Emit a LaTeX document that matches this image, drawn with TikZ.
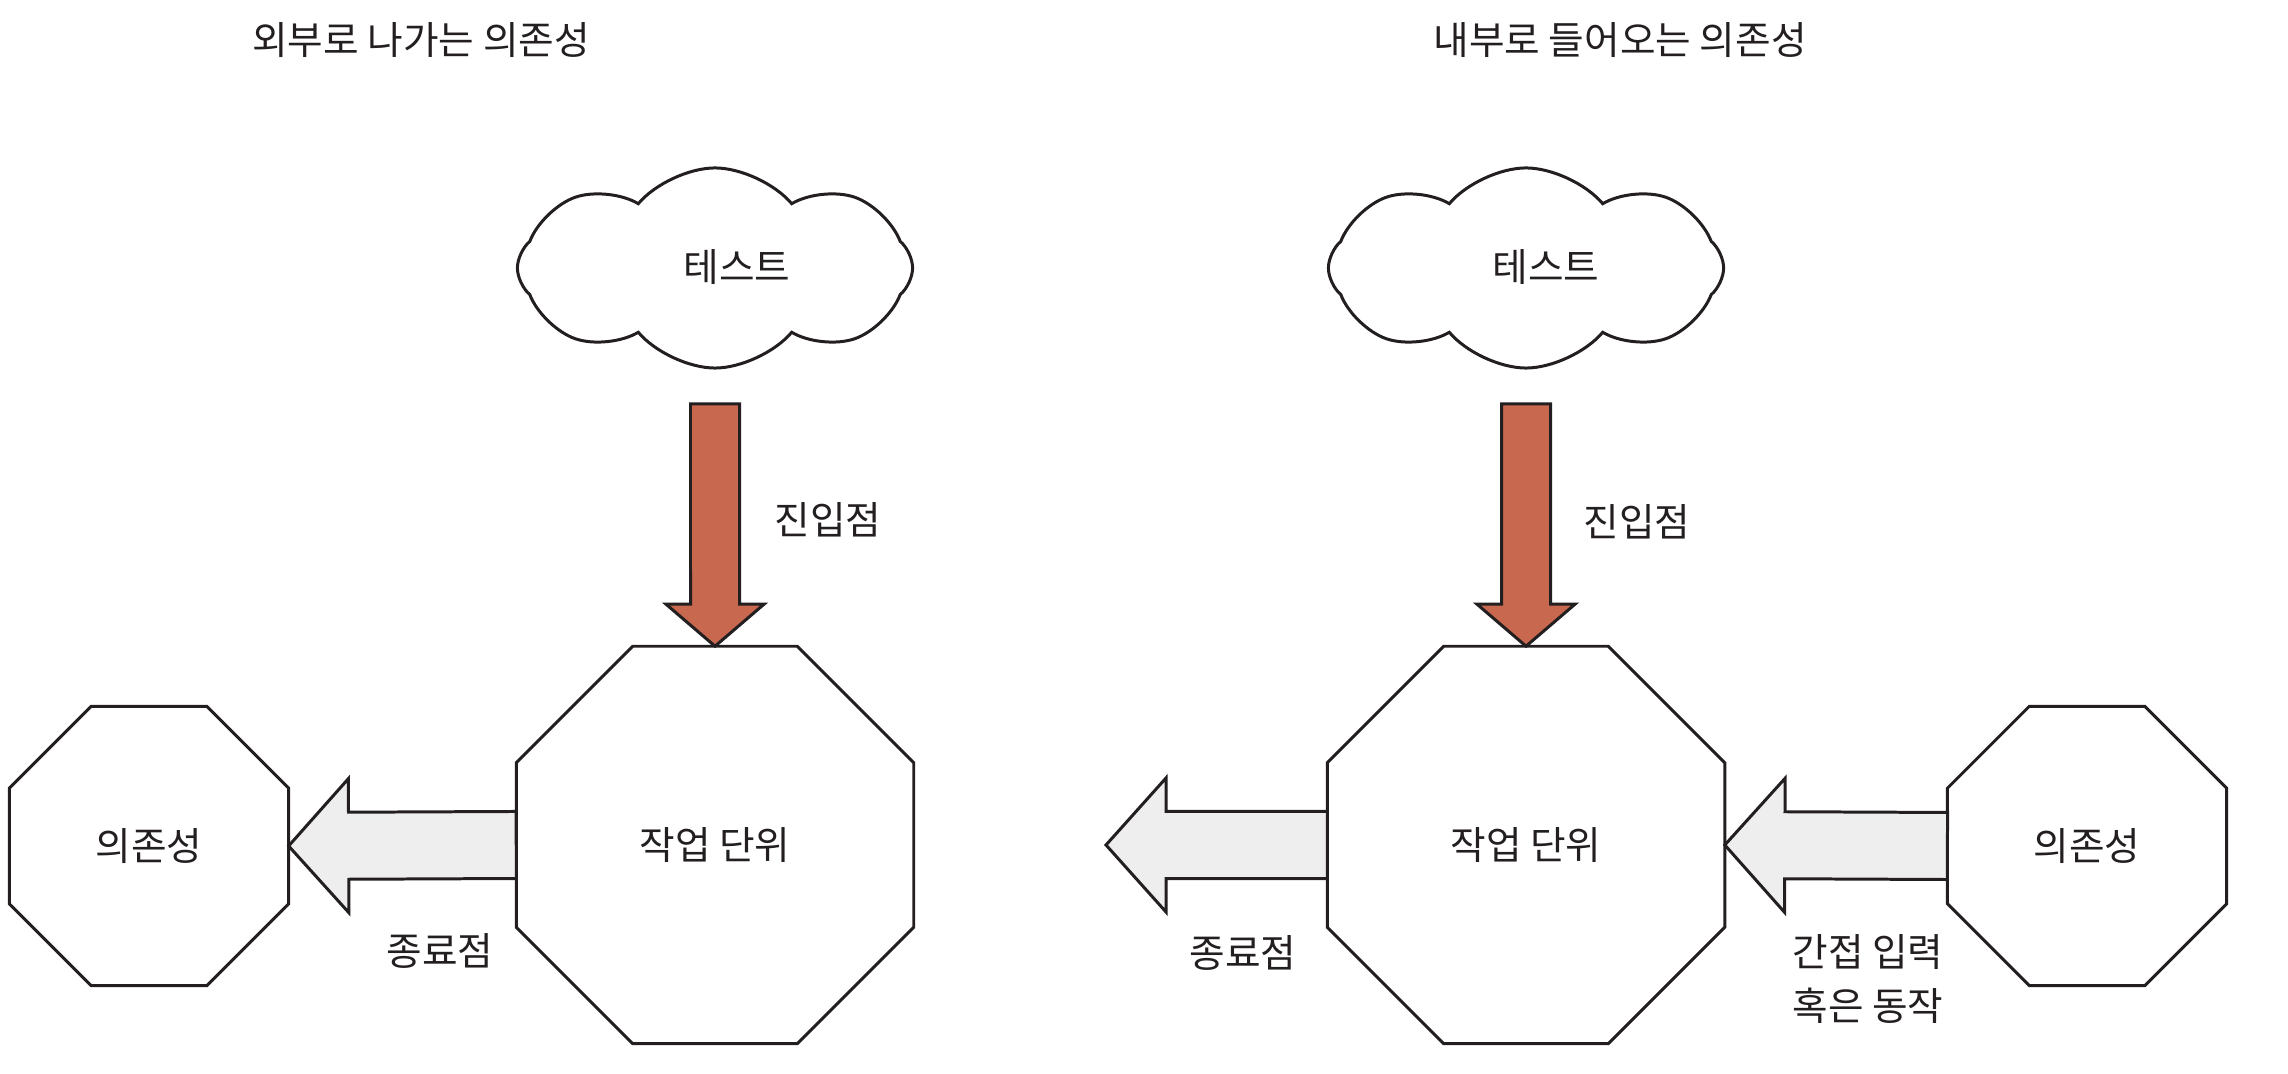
\documentclass[tikz,border=0pt]{standalone}
\usepackage{fontspec}
\setmainfont{Noto Sans CJK KR}
\usetikzlibrary{calc,shapes.geometric,shapes.symbols}

\definecolor{inkline}{HTML}{231F20}
\definecolor{entryfill}{HTML}{C8684F}
\definecolor{exitfill}{HTML}{EEEEEE}

\tikzset{
  octbox/.style={regular polygon, regular polygon sides=8, draw=inkline,
    line width=0.85pt, inner sep=0pt, outer sep=0pt},
  cloudbox/.style={cloud, cloud puffs=8, cloud puff arc=100, aspect=1.9,
    draw=inkline, line width=0.85pt, minimum width=3.95cm, minimum height=2.0cm,
    inner sep=0pt, outer sep=0pt},
  % block arrow: shaft half width, head half width, head length
  blockarrow/.style n args={3}{draw=inkline, line width=0.85pt, line join=miter,
    to path={
      ($(\tikztostart)!#1!90:(\tikztotarget)$)
      -- ($(\tikztotarget)!#3!(\tikztostart)!#1!-90:(\tikztostart)$)
      -- ($(\tikztotarget)!#3!(\tikztostart)!#2!-90:(\tikztostart)$)
      -- (\tikztotarget)
      -- ($(\tikztotarget)!#3!(\tikztostart)!#2!90:(\tikztostart)$)
      -- ($(\tikztotarget)!#3!(\tikztostart)!#1!90:(\tikztostart)$)
      -- ($(\tikztostart)!#1!-90:(\tikztotarget)$)
      -- cycle \tikztonodes}},
  inarrow/.style={blockarrow={0.245cm}{0.49cm}{0.42cm}, fill=entryfill},
  outarrow/.style={blockarrow={0.335cm}{0.67cm}{0.6cm}, fill=exitfill},
}

\begin{document}
\begin{tikzpicture}[x=0.01cm, y=-0.01cm, text=inkline,
    font=\fontsize{11pt}{15.3pt}\selectfont]
    \useasboundingbox (0,0) rectangle (2288,1074);
    % outgoing dependencies
    \node (TL) at (421,40) {외부로 나가는 의존성};
    \node[cloudbox] (CL) at (715,268) {};
    \node (TCL) at (737,267) {테스트};
    \coordinate (EL) at (715,404);
    \node[octbox, minimum size=4.3cm] (WL) at (715,845) {작업 단위};
    \node[octbox, minimum size=3.02cm] (DL) at (149,846) {의존성};
    \node (INL) at (828,520) {진입점};
    \node (OUTL) at (440,951) {종료점};
    \draw[inarrow] (EL) to (WL.north);
    \draw[outarrow] (WL.west) to (DL.east);
    % incoming dependencies
    \node (TR) at (1620,40) {내부로 들어오는 의존성};
    \node[cloudbox] (CR) at (1526,268) {};
    \node (TCR) at (1546,267) {테스트};
    \coordinate (ER) at (1526,404);
    \node[octbox, minimum size=4.3cm] (WR) at (1526,845) {작업 단위};
    \node[octbox, minimum size=3.02cm] (DR) at (2087,846) {의존성};
    \coordinate (XR) at (1106,845);
    \node (INR) at (1637,522) {진입점};
    \node (OUTR) at (1243,953) {종료점};
    \node[align=center] (IND) at (1868,979) {간접 입력\\혹은 동작};
    \draw[inarrow] (ER) to (WR.north);
    \draw[outarrow] (WR.west) to (XR);
    \draw[outarrow] (DR.west) to (WR.east);
\end{tikzpicture}
\end{document}
